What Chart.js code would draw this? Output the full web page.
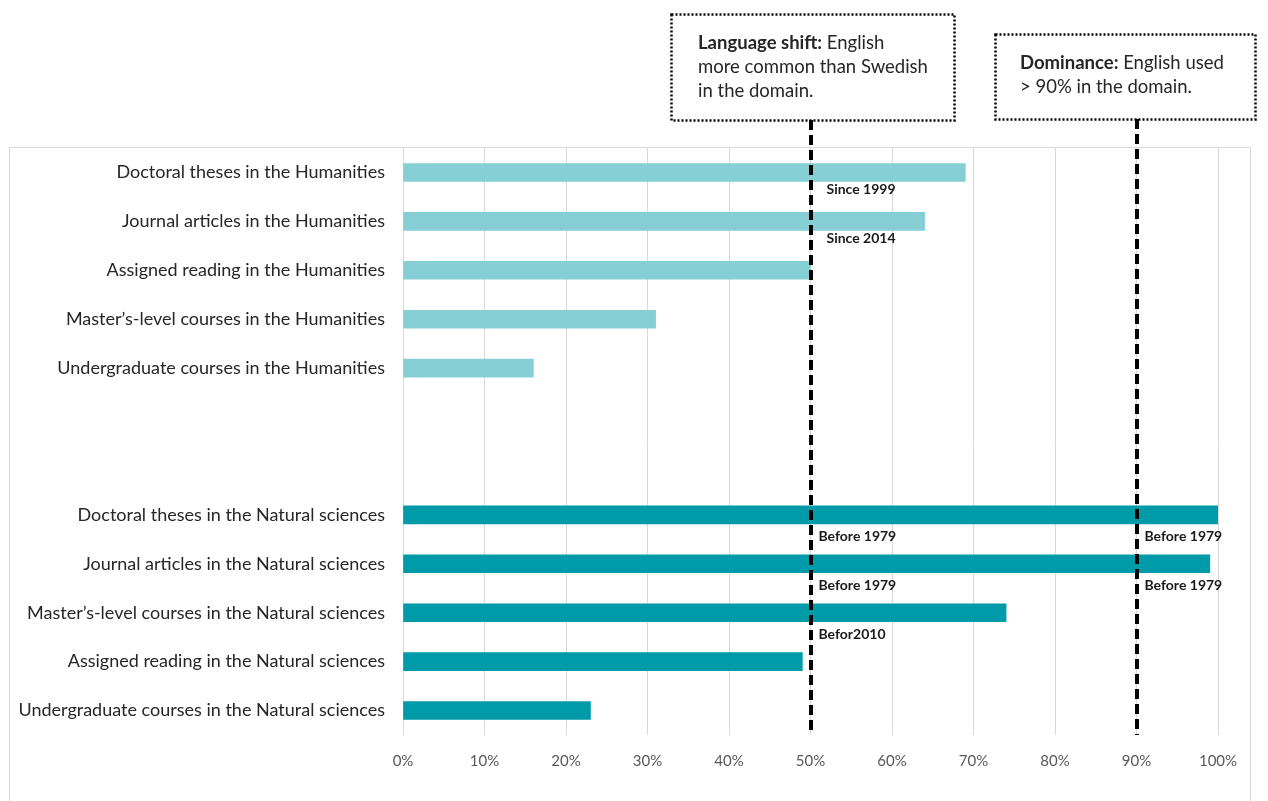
<!DOCTYPE html>
<html>
<head>
<meta charset="utf-8">
<title>English in Swedish academia</title>
<script src="https://cdn.jsdelivr.net/npm/chart.js@4/dist/chart.umd.min.js"></script>
<style>
  html, body { margin: 0; padding: 0; background: #fff; }
  #chart { display: block; }
</style>
</head>
<body>
<canvas id="chart" width="1268" height="801"></canvas>
<script>
// Share of English (%) per domain, top to bottom
var humanitiesLabels = [
  'Doctoral theses in the Humanities',
  'Journal articles in the Humanities',
  'Assigned reading in the Humanities',
  'Master\u2019s-level courses in the Humanities',
  'Undergraduate courses in the Humanities'
];
var humanitiesValues = [69, 64, 50, 31, 16];

var naturalLabels = [
  'Doctoral theses in the Natural sciences',
  'Journal articles in the Natural sciences',
  'Master\u2019s-level courses in the Natural sciences',
  'Assigned reading in the Natural sciences',
  'Undergraduate courses in the Natural sciences'
];
var naturalValues = [100, 99, 74, 49, 23];

var xTicks = [0, 10, 20, 30, 40, 50, 60, 70, 80, 90, 100];

// thresholds drawn as dashed lines, with their explanation boxes
var thresholds = [50, 90];
var thresholdTitles = ['Language shift:', 'Dominance:'];
var thresholdTexts = [
  [' English', 'more common than Swedish', 'in the domain.'],
  [' English used', '> 90% in the domain.']
];

// "since when" notes: [category label, threshold, text]
var notes = [
  ['Doctoral theses in the Humanities', 50, 'Since 1999'],
  ['Journal articles in the Humanities', 50, 'Since 2014'],
  ['Doctoral theses in the Natural sciences', 50, 'Before 1979'],
  ['Doctoral theses in the Natural sciences', 90, 'Before 1979'],
  ['Journal articles in the Natural sciences', 50, 'Before 1979'],
  ['Journal articles in the Natural sciences', 90, 'Before 1979'],
  ['Master\u2019s-level courses in the Natural sciences', 50, 'Befor2010']
];

var LIGHT = '#85cfd4';
var DARK = '#009ba8';
var FONT = 'Lato, "Noto Sans", sans-serif';

// two empty rows separate the groups
var labels = humanitiesLabels.concat(['', ' '], naturalLabels);
var values = humanitiesValues.concat([null, null], naturalValues);
var colors = humanitiesValues.map(function () { return LIGHT; })
  .concat([LIGHT, LIGHT], naturalValues.map(function () { return DARK; }));

var overlay = {
  id: 'overlay',
  beforeDraw: function (chart) {
    var ctx = chart.ctx;
    ctx.save();
    ctx.strokeStyle = '#d9d9d9';
    ctx.lineWidth = 1;
    ctx.strokeRect(9.5, 147.5, 1241, 700);
    ctx.restore();
  },
  afterDatasetsDraw: function (chart) {
    var ctx = chart.ctx;
    var xs = chart.scales.x, ys = chart.scales.y;
    var area = chart.chartArea;
    var boxes = [
      { dx: -140, top: 14, w: 283, h: 106, tx: 27, ty: 29 },
      { dx: -142, top: 34, w: 260, h: 85, tx: 25, ty: 29 }
    ];

    ctx.save();
    thresholds.forEach(function (t, i) {
      var px = Math.round(xs.getPixelForValue(t));
      var b = boxes[i];

      // dashed threshold line
      ctx.setLineDash([10, 5]);
      ctx.lineWidth = 4;
      ctx.strokeStyle = '#000';
      ctx.beginPath();
      ctx.moveTo(px, b.top + b.h);
      ctx.lineTo(px, area.bottom);
      ctx.stroke();

      // dotted box
      var left = px + b.dx;
      ctx.setLineDash([2, 2]);
      ctx.lineWidth = 2.5;
      ctx.fillStyle = '#fff';
      ctx.fillRect(left, b.top, b.w, b.h);
      ctx.strokeRect(left + 0.5, b.top + 0.5, b.w, b.h);
      ctx.setLineDash([]);

      ctx.textBaseline = 'middle';
      ctx.textAlign = 'left';
      ctx.fillStyle = '#262626';
      var lines = thresholdTexts[i];
      var x0 = left + b.tx;
      ctx.font = 'bold 18.5px ' + FONT;
      ctx.fillText(thresholdTitles[i], x0, b.top + b.ty);
      var tw = ctx.measureText(thresholdTitles[i]).width;
      ctx.font = '18.5px ' + FONT;
      ctx.fillText(lines[0], x0 + tw, b.top + b.ty);
      for (var k = 1; k < lines.length; k++) {
        ctx.fillText(lines[k], x0, b.top + b.ty + 24 * k);
      }
    });

    // notes under the bars, just right of the thresholds
    ctx.font = 'bold 14px ' + FONT;
    ctx.fillStyle = '#1a1a1a';
    ctx.textBaseline = 'middle';
    notes.forEach(function (n) {
      var row = labels.indexOf(n[0]);
      var y = ys.getPixelForValue(row);
      var isHum = row < humanitiesLabels.length;
      var x = xs.getPixelForValue(n[1]) + (isHum ? 16 : 8);
      ctx.fillText(n[2], x, y + (isHum ? 17 : 22));
    });
    ctx.restore();
  }
};

new Chart(document.getElementById('chart'), {
  type: 'bar',
  data: {
    labels: labels,
    datasets: [{
      data: values,
      backgroundColor: colors,
      barThickness: 18,
      borderWidth: 0
    }]
  },
  options: {
    indexAxis: 'y',
    responsive: false,
    animation: false,
    layout: { padding: { top: 148, right: 50, left: 0, bottom: 0 } },
    plugins: {
      legend: { display: false },
      tooltip: { enabled: false }
    },
    scales: {
      x: {
        min: 0,
        max: 100,
        afterBuildTicks: function (s) {
          s.ticks = xTicks.map(function (v) { return { value: v }; });
        },
        afterFit: function (s) { s.height = 66; },
        grid: { color: '#d9d9d9', lineWidth: 1, drawTicks: false },
        border: { display: false },
        ticks: {
          padding: 17,
          color: '#595959',
          font: { family: FONT, size: 15 },
          callback: function (v) { return v + '%'; }
        }
      },
      y: {
        afterFit: function (s) { s.width = 403; },
        grid: { display: false, drawTicks: false },
        border: { display: false },
        ticks: {
          padding: 18,
          color: '#262626',
          font: { family: FONT, size: 18 }
        }
      }
    }
  },
  plugins: [overlay]
});
</script>
</body>
</html>
